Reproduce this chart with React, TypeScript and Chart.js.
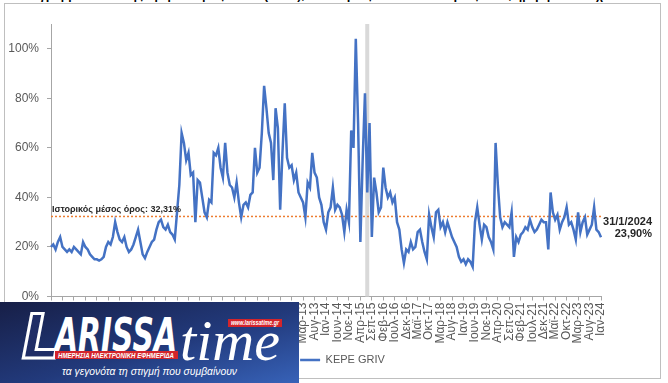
import React, { useEffect, useRef } from "react";
import { Chart, registerables } from "chart.js";
Chart.register(...registerables);

// ---- data ----
const monthNames = ["Ιαν", "Φεβ", "Μαρ", "Απρ", "Μαϊ", "Ιουν", "Ιουλ", "Αυγ", "Σεπ", "Οκτ", "Νοε", "Δεκ"];
const firstYear = 2004;
const lastYear = 2024;
const monthsInLastYear = 1;
const labelEvery = 5;

// KEPE GRIV, monthly readings (%) from Jan 2004 to Jan 2024
const griv = [
  20, 21, 19, 22, 24, 20, 19, 18, 19, 18, 20, 19,
  18, 17, 22, 20, 19, 17, 16, 15, 15, 14.5, 15, 16,
  20, 22, 21, 24, 30, 26, 23, 22, 24, 20, 18, 19,
  21, 24, 27, 22, 17, 15.5, 18, 20, 22, 23, 27, 30,
  31, 28, 27, 29, 26, 25, 23, 34, 45, 66, 62, 55,
  58, 49, 50, 30, 47, 46, 40, 34, 32, 39, 38, 58,
  57, 60, 52, 48, 62, 50, 45, 44, 40, 46, 38, 32,
  37, 38, 36, 41, 42, 60, 50, 52, 66, 85, 76, 66,
  62, 47, 76, 68, 35, 58, 78, 56, 52, 53, 47, 50,
  42, 40, 38, 32, 46, 44, 58, 50, 48, 40, 37, 30,
  27, 34, 36, 44, 35, 37, 36, 33, 26, 35, 30, 67,
  60, 104, 70, 22, 55, 82, 42, 70, 24, 48, 42, 34,
  36, 52, 44, 40, 42, 38, 40, 30, 27, 19, 13.5, 19,
  18, 22, 19, 20, 26, 27, 22, 18, 15, 33, 28, 24,
  34, 35, 28, 30, 26, 30, 27, 24, 22, 20, 16, 14,
  15, 13, 15, 14, 12, 30, 36, 29, 23, 29, 28, 24,
  22, 19, 62, 45, 32, 28, 30, 29, 28, 34, 16, 24,
  22, 25, 26, 28, 27, 31, 28, 26, 27, 29, 31, 30,
  30, 19, 42, 34, 31, 33, 27, 30, 32, 36, 29, 30,
  27, 23, 34, 26, 30, 32, 25, 27, 29, 36, 27, 26,
  23.9,
];

const seriesName = "KEPE GRIV";
const historicalMean = 32.31;
const meanLabel = "Ιστορικός μέσος όρος: 32,31%";
const lastDateLabel = "31/1/2024";
const lastValueLabel = "23,90%";
const shadedMonth = "Ιουλ-15";
const yTicks = [0, 20, 40, 60, 80, 100];
const yMax = 110;

const categories: string[] = [];
for (let y = firstYear; y <= lastYear; y++) {
  for (let m = 0; m < 12; m++) {
    if (y === lastYear && m >= monthsInLastYear) break;
    categories.push(`${monthNames[m]}-${String(y).slice(2)}`);
  }
}

const FONT = "'Liberation Sans', Arial, sans-serif";

const overlayPlugin = {
  id: "overlay",
  afterLayout(chart: any) {
    const lg = chart.legend;
    if (lg) {
      lg.left += 42;
      lg.right += 42;
    }
  },
  beforeDatasetsDraw(chart: any) {
    const { ctx, chartArea, scales } = chart;
    const x = scales.x;
    const y = scales.y;
    ctx.save();
    const bx = x.getPixelForValue(categories.indexOf(shadedMonth));
    ctx.fillStyle = "#d9d9d9";
    ctx.fillRect(bx - 2, chartArea.top, 4, chartArea.bottom - chartArea.top);
    const my = y.getPixelForValue(historicalMean);
    ctx.strokeStyle = "#ed7d31";
    ctx.lineWidth = 1.5;
    ctx.setLineDash([2, 2]);
    ctx.beginPath();
    ctx.moveTo(chartArea.left, my);
    ctx.lineTo(chartArea.right, my);
    ctx.stroke();
    ctx.restore();
  },
  afterDatasetsDraw(chart: any) {
    const { ctx, chartArea, scales } = chart;
    const y = scales.y;
    const my = y.getPixelForValue(historicalMean);
    ctx.save();
    ctx.fillStyle = "#262626";
    ctx.textBaseline = "middle";
    ctx.font = `bold 9px ${FONT}`;
    ctx.textAlign = "left";
    ctx.fillText(meanLabel, chartArea.left + 1, my - 7);
    const meta = chart.getDatasetMeta(0);
    const last = meta.data[meta.data.length - 1];
    ctx.font = `bold 11px ${FONT}`;
    ctx.textAlign = "right";
    ctx.fillText(lastDateLabel, last.x + 51, last.y - 15);
    ctx.fillText(lastValueLabel, last.x + 51, last.y - 3);
    ctx.restore();
  },
};

function Logo() {
  return (
    <svg
      width={299}
      height={81}
      style={{ position: "absolute", left: 0, top: 302, zIndex: 5 }}
    >
      <defs>
        <linearGradient id="lg" x1="0" y1="0" x2="1" y2="1">
          <stop offset="0" stopColor="#171f47" />
          <stop offset="0.55" stopColor="#223a7c" />
          <stop offset="1" stopColor="#3762b8" />
        </linearGradient>
      </defs>
      <rect x={0} y={0} width={299} height={81} fill="url(#lg)" />
      <text
        x={22}
        y={56}
        fontFamily="'DejaVu Sans', sans-serif"
        fontWeight="bold"
        fontStyle="italic"
        fontSize={60}
        fill="#1f2d66"
        stroke="#ffffff"
        strokeWidth={3}
      >
        L
      </text>
      <text
        x={55}
        y={49}
        fontFamily="'DejaVu Sans', sans-serif"
        fontWeight="bold"
        fontStyle="italic"
        fontSize={47}
        fill="#ffffff"
        textLength={122}
        lengthAdjust="spacingAndGlyphs"
      >
        ARISSA
      </text>
      <rect x={55} y={49} width={123} height={8} fill="#d4252b" />
      <text
        x={58}
        y={55.5}
        fontFamily={FONT}
        fontWeight="bold"
        fontStyle="italic"
        fontSize={6.5}
        fill="#ffffff"
        textLength={116}
        lengthAdjust="spacingAndGlyphs"
      >
        ΗΜΕΡΗΣΙΑ ΗΛΕΚΤΡΟΝΙΚΗ ΕΦΗΜΕΡΙΔΑ
      </text>
      <text
        x={180}
        y={58}
        fontFamily="'Liberation Serif', serif"
        fontStyle="italic"
        fontSize={58}
        fill="#ffffff"
        textLength={100}
        lengthAdjust="spacingAndGlyphs"
      >
        time
      </text>
      <rect x={228} y={17} width={54} height={8} fill="#d4252b" />
      <text
        x={231}
        y={23.3}
        fontFamily={FONT}
        fontWeight="bold"
        fontStyle="italic"
        fontSize={6.5}
        fill="#ffffff"
        textLength={48}
        lengthAdjust="spacingAndGlyphs"
      >
        www.larissatime.gr
      </text>
      <text
        x={149.5}
        y={73}
        fontFamily={FONT}
        fontStyle="italic"
        fontSize={11.5}
        fill="#ffffff"
        textAnchor="middle"
        textLength={175}
        lengthAdjust="spacingAndGlyphs"
      >
        τα γεγονότα τη στιγμή που συμβαίνουν
      </text>
    </svg>
  );
}

export default function App() {
  const canvasRef = useRef<HTMLCanvasElement | null>(null);

  useEffect(() => {
    if (!canvasRef.current) return;
    Chart.defaults.font.family = FONT;
    const chart = new Chart(canvasRef.current, {
      type: "line",
      data: {
        labels: categories,
        datasets: [
          {
            label: seriesName,
            data: griv,
            borderColor: "#4472c4",
            backgroundColor: "#4472c4",
            borderWidth: 2.5,
            pointRadius: 0,
            tension: 0,
            fill: false,
          },
        ],
      },
      options: {
        responsive: false,
        animation: false,
        layout: { padding: { left: 0, top: 24, right: 67, bottom: 7.5 } },
        plugins: {
          legend: {
            position: "bottom",
            labels: {
              usePointStyle: true,
              pointStyle: "line",
              pointStyleWidth: 20,
              color: "#595959",
              font: { size: 11, family: FONT },
              padding: 10,
            },
          },
          tooltip: { enabled: false },
        },
        scales: {
          x: {
            type: "category",
            offset: false,
            afterBuildTicks: (s: any) => {
              s.ticks = s.ticks.filter((t: any) => t.value % labelEvery === 0);
            },
            afterFit: (s: any) => {
              s.height = 48;
            },
            ticks: {
              autoSkip: false,
              minRotation: 90,
              maxRotation: 90,
              color: "#595959",
              font: { size: 12, family: FONT },
              padding: 2,
            },
            grid: {
              drawOnChartArea: false,
              drawTicks: true,
              tickLength: 4,
              offset: false,
              color: "#a6a6a6",
            },
            border: { color: "#a6a6a6" },
          },
          y: {
            min: 0,
            max: yMax,
            afterBuildTicks: (s: any) => {
              s.ticks = yTicks.map((v) => ({ value: v }));
            },
            afterFit: (s: any) => {
              s.width = 51;
            },
            ticks: {
              callback: (v: any) => `${v}%`,
              color: "#595959",
              font: { size: 12, family: FONT },
              padding: 8,
            },
            grid: {
              drawOnChartArea: false,
              drawTicks: true,
              tickLength: 4,
              color: "#a6a6a6",
            },
            border: { color: "#a6a6a6" },
          },
        },
      },
      plugins: [overlayPlugin],
    } as any);
    return () => chart.destroy();
  }, []);

  return (
    <div
      style={{
        position: "fixed",
        left: 0,
        top: 0,
        width: 668,
        height: 383,
        overflow: "hidden",
        background: "#ffffff",
      }}
    >
      <div
        style={{
          position: "absolute",
          left: 20,
          top: -12,
          whiteSpace: "nowrap",
          fontFamily: FONT,
          fontWeight: "bold",
          fontSize: 12,
          lineHeight: "14px",
          color: "#000",
        }}
      >
        Διάγραμμα 1: Δείκτης Αβεβαιότητας ΚΕΠΕ (GRIV), Ιανουάριος 2004 – Ιανουάριος 2024, ημερήσια στοιχεία
      </div>
      <div
        style={{
          position: "absolute",
          left: 4,
          top: 3,
          width: 657,
          height: 376,
          border: "1px solid #bfbfbf",
          boxSizing: "border-box",
        }}
      />
      <canvas
        ref={canvasRef}
        width={668}
        height={383}
        style={{ position: "absolute", left: 0, top: 0, width: 668, height: 383 }}
      />
      <Logo />
    </div>
  );
}
